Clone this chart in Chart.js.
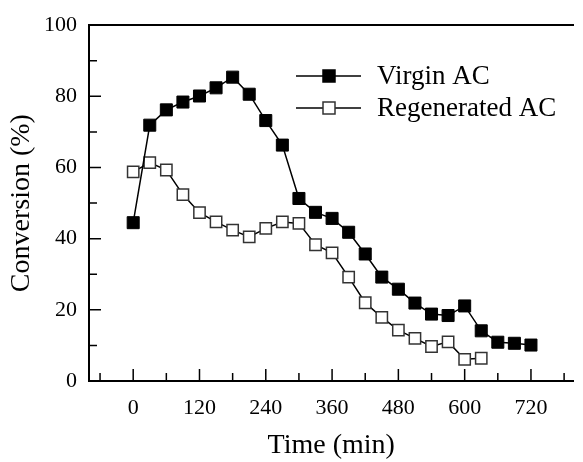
<!DOCTYPE html>
<html>
<head>
<meta charset="utf-8">
<script src="https://cdn.jsdelivr.net/npm/chart.js@4.4.0/dist/chart.umd.min.js"></script>
<style>
  body { margin: 0; background: #fff; }
  #wrap { width: 583px; height: 462px; }
</style>
</head>
<body>
<div id="wrap"><canvas id="myChart" width="583" height="462"></canvas></div>
<script>
// time points (min)
const virginTime = [0, 30, 60, 90, 120, 150, 180, 210, 240, 270, 300, 330, 360, 390, 420, 450, 480, 510, 540, 570, 600, 630, 660, 690, 720]
const regenTime = [0, 30, 60, 90, 120, 150, 180, 210, 240, 270, 300, 330, 360, 390, 420, 450, 480, 510, 540, 570, 600, 630]

// conversion (%)
const virginConv = [44.5, 71.9, 76.2, 78.4, 80.1, 82.4, 85.4, 80.6, 73.2, 66.3, 51.3, 47.4, 45.7, 41.8, 35.7, 29.2, 25.8, 21.9, 18.8, 18.4, 21.1, 14.1, 10.9, 10.6, 10.1]
const regenConv = [58.8, 61.4, 59.3, 52.4, 47.3, 44.7, 42.4, 40.5, 42.9, 44.7, 44.3, 38.3, 36.0, 29.2, 22.0, 17.9, 14.3, 12.0, 9.7, 11.0, 6.1, 6.4]

const xTicks = [0, 120, 240, 360, 480, 600, 720]
const xMinor = [-60, 60, 180, 300, 420, 540, 660, 780]
const yTicks = [0, 20, 40, 60, 80, 100]
const yMinor = [10, 30, 50, 70, 90]

const serif = 'Liberation Serif, Times New Roman, serif'

const toPoints = (xs, ys) => xs.map((x, i) => ({ x: x, y: ys[i] }))

// inward tick marks, major and minor
const tickMarks = {
	id: 'tickMarks',
	afterDraw(chart) {
		const ctx = chart.ctx
		const x = chart.scales.x
		const y = chart.scales.y
		const area = chart.chartArea
		ctx.save()
		ctx.strokeStyle = '#000'
		ctx.lineWidth = 1.5
		ctx.beginPath()
		xTicks.forEach(v => { const px = x.getPixelForValue(v); ctx.moveTo(px, area.bottom); ctx.lineTo(px, area.bottom - 12) })
		xMinor.forEach(v => { const px = x.getPixelForValue(v); ctx.moveTo(px, area.bottom); ctx.lineTo(px, area.bottom - 8) })
		yTicks.forEach(v => { const py = y.getPixelForValue(v); ctx.moveTo(area.left, py); ctx.lineTo(area.left + 12, py) })
		yMinor.forEach(v => { const py = y.getPixelForValue(v); ctx.moveTo(area.left, py); ctx.lineTo(area.left + 8, py) })
		ctx.stroke()
		ctx.restore()
	}
}

// legend inside the plot: line + square + label
const innerLegend = {
	id: 'innerLegend',
	afterDraw(chart) {
		const ctx = chart.ctx
		ctx.save()
		ctx.font = '27px ' + serif
		ctx.textBaseline = 'middle'
		chart.data.datasets.forEach((ds, i) => {
			const yy = 76 + i * 32
			ctx.strokeStyle = '#000'
			ctx.lineWidth = 1.5
			ctx.beginPath()
			ctx.moveTo(296, yy)
			ctx.lineTo(361, yy)
			ctx.stroke()
			ctx.fillStyle = ds.pointBackgroundColor
			ctx.strokeStyle = ds.pointBorderColor
			ctx.fillRect(323, yy - 6, 12, 12)
			ctx.strokeRect(323, yy - 6, 12, 12)
			ctx.fillStyle = '#000'
			ctx.fillText(ds.label, 377, yy + 1)
		})
		ctx.restore()
	}
}

const ctx = document.getElementById('myChart')

new Chart(ctx, {
	type: 'scatter',
	data: {
		datasets: [{
			label: 'Virgin AC',
			data: toPoints(virginTime, virginConv),
			showLine: true,
			borderColor: '#000',
			borderWidth: 1.5,
			pointStyle: 'rect',
			pointRadius: 8.5,
			pointBackgroundColor: '#000',
			pointBorderColor: '#000',
			pointBorderWidth: 1
		}, {
			label: 'Regenerated AC',
			data: toPoints(regenTime, regenConv),
			showLine: true,
			borderColor: '#000',
			borderWidth: 1.5,
			pointStyle: 'rect',
			pointRadius: 8,
			pointBackgroundColor: '#fff',
			pointBorderColor: '#333',
			pointBorderWidth: 1.5
		}]
	},
	options: {
		responsive: false,
		animation: false,
		layout: { padding: 0 },
		plugins: {
			legend: { display: false },
			tooltip: { enabled: false }
		},
		scales: {
			x: {
				type: 'linear',
				position: 'bottom',
				min: -80,
				max: 797,
				afterBuildTicks: scale => { scale.ticks = xTicks.map(v => ({ value: v })) },
				afterFit: scale => { scale.height = 81 },
				grid: { display: false, drawTicks: false },
				border: { display: true, color: '#000', width: 2 },
				ticks: {
					color: '#000',
					font: { family: serif, size: 22 },
					padding: 14,
					maxRotation: 0
				},
				title: {
					display: true,
					text: 'Time (min)',
					color: '#000',
					font: { family: serif, size: 28 },
					padding: 0
				}
			},
			xTop: {
				type: 'linear',
				position: 'top',
				min: -80,
				max: 797,
				afterFit: scale => { scale.height = 24 },
				grid: { display: false, drawTicks: false },
				border: { display: true, color: '#000', width: 2 },
				ticks: { display: false }
			},
			y: {
				min: 0,
				max: 100,
				afterBuildTicks: scale => { scale.ticks = yTicks.map(v => ({ value: v })) },
				afterFit: scale => { scale.width = 89 },
				grid: { display: false, drawTicks: false },
				border: { display: true, color: '#000', width: 2 },
				ticks: {
					color: '#000',
					font: { family: serif, size: 22 },
					padding: 12
				},
				title: {
					display: true,
					text: 'Conversion (%)',
					color: '#000',
					font: { family: serif, size: 28 },
					padding: { top: 5, bottom: 0 }
				}
			}
		}
	},
	plugins: [tickMarks, innerLegend]
});
</script>
</body>
</html>
